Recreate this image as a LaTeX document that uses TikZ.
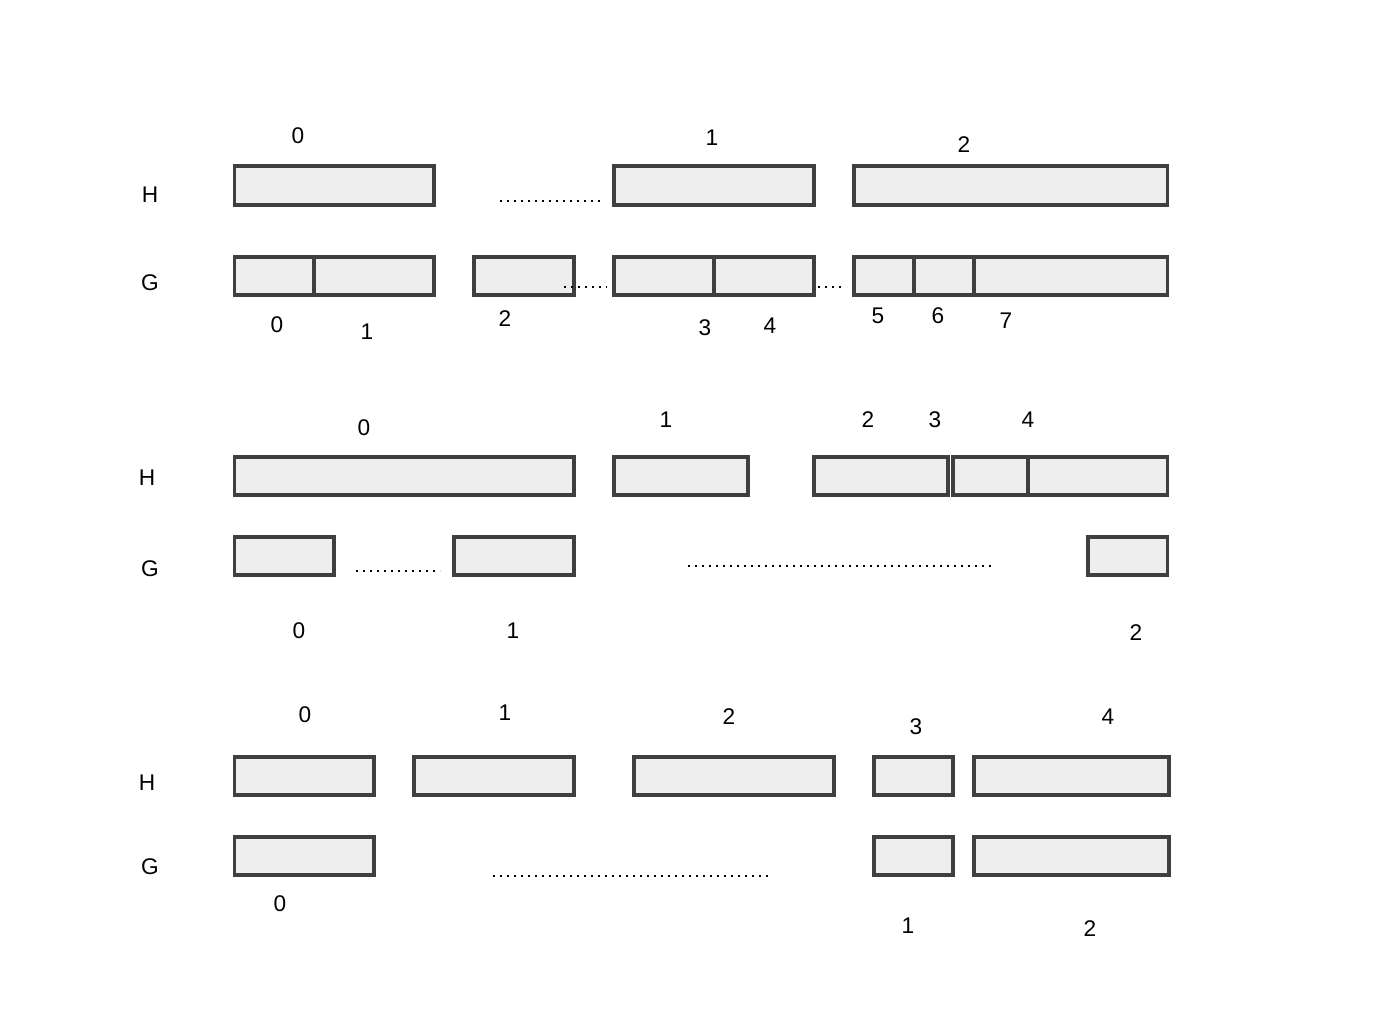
\documentclass[tikz,border=0pt]{standalone}
\usepackage{fontspec}
\setmainfont{Liberation Sans}
\usepackage{xcolor}
\usepackage{tikz}
\definecolor{edge}{HTML}{3F3F3F}
\definecolor{fillgray}{HTML}{EEEEEE}
\tikzset{
  seg/.style={draw=edge, fill=fillgray, line width=2.7pt},
  gap/.style={draw=black, line width=1.8pt, dash pattern=on 1.7pt off 3.55pt},
  lab/.style={text=black, font=\fontsize{17}{20}\selectfont, inner sep=0pt},
}

\begin{document}
\begin{tikzpicture}[x=0.75pt,y=-0.75pt]
  \useasboundingbox (0,0) rectangle (1388,1028);
  % row names
  \foreach \n/\t/\x/\y in {h1/H/150/195,g1/G/150/283,h2/H/147/478,g2/G/150/569,h3/H/147/783,g3/G/150/867}
    \node[lab] (\n) at (\x,\y) {\t};
  % first block
  \foreach \xa/\xb in {234.5/434,614/814,854/1167.5}
    \draw[seg] (\xa,166) rectangle (\xb,205);
  \foreach \xa/\xb in {234.5/314,314/434,474/574,614/714,714/814,854/914,914/974,974/1167.5}
    \draw[seg] (\xa,257) rectangle (\xb,295);
  \draw[gap] (500,201) -- (604,201);
  \draw[gap] (564,287) -- (607,287);
  \draw[gap] (818,287) -- (843,287);
  \foreach \t/\x/\y in {0/298/136,1/712/138,2/964/145}
    \node[lab] (a\t) at (\x,\y) {\t};
  \foreach \t/\x/\y in {0/277/325,1/367/332,2/505/319,3/705/328,4/770/326,5/878/316,6/938/316,7/1006/321}
    \node[lab] (b\t) at (\x,\y) {\t};
  % second block
  \foreach \xa/\xb in {234.5/574,614/748,814/948,953/1028,1028/1167.5}
    \draw[seg] (\xa,457) rectangle (\xb,495);
  \foreach \xa/\xb in {234.5/334,454/574,1088/1167.5}
    \draw[seg] (\xa,537) rectangle (\xb,575);
  \draw[gap] (356,571) -- (440,571);
  \draw[gap] (688,566) -- (991,566);
  \foreach \t/\x/\y in {0/364/428,1/666/420,2/868/420,3/935/420,4/1028/420}
    \node[lab] (c\t) at (\x,\y) {\t};
  \foreach \t/\x/\y in {0/299/631,1/513/631,2/1136/633}
    \node[lab] (d\t) at (\x,\y) {\t};
  % third block
  \foreach \xa/\xb in {234.5/374,414/574,634/834,874/953,974/1169}
    \draw[seg] (\xa,757) rectangle (\xb,795);
  \foreach \xa/\xb in {234.5/374,874/953,974/1169}
    \draw[seg] (\xa,837) rectangle (\xb,875);
  \draw[gap] (493,876) -- (769,876);
  \foreach \t/\x/\y in {0/305/715,1/505/713,2/729/717,3/916/727,4/1108/717}
    \node[lab] (e\t) at (\x,\y) {\t};
  \foreach \t/\x/\y in {0/280/904,1/908/926,2/1090/929}
    \node[lab] (f\t) at (\x,\y) {\t};
\end{tikzpicture}
\end{document}
